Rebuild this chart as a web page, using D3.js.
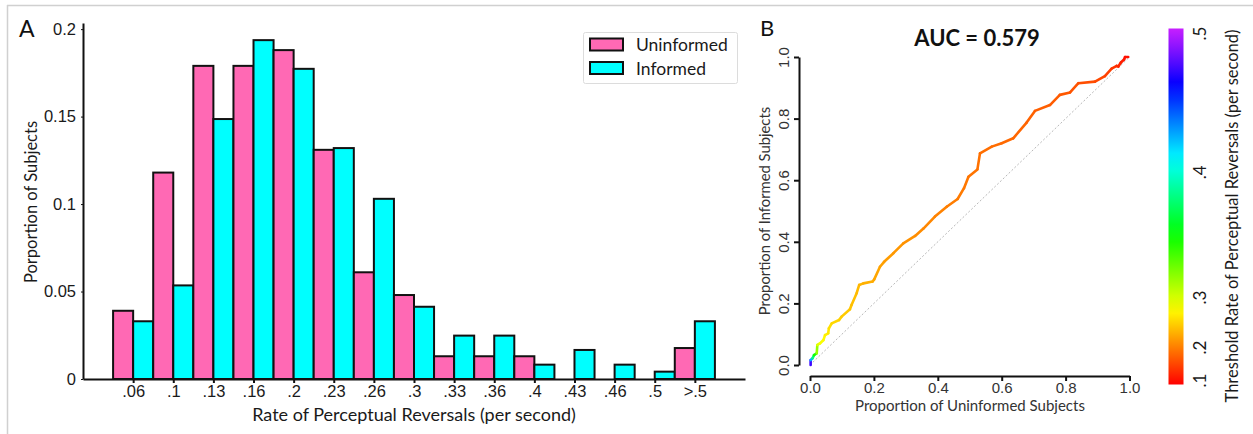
<!DOCTYPE html>
<html><head><meta charset="utf-8">
<script src="https://cdn.jsdelivr.net/npm/d3@7"></script>
<style>
body{margin:0;background:#fff;}
svg{display:block;font-family:Lato, "Open Sans", sans-serif;}
</style></head>
<body>
<svg id="chart" width="1253" height="434"></svg>
<script>
// ---------- Data ----------
const categories = [".06",".1",".13",".16",".2",".23",".26",".3",".33",".36",".4",".43",".46",".5",">.5"];
const uninformed = [0.039,0.118,0.179,0.179,0.188,0.131,0.061,0.048,0.013,0.013,0.013,0,0,0,0.0177];
const informed   = [0.033,0.0535,0.1486,0.1937,0.1773,0.132,0.103,0.0413,0.0248,0.0248,0.0082,0.0166,0.0082,0.0042,0.033];
const yTicksA = [0,0.05,0.1,0.15,0.2];
const seriesNames = ["Uninformed","Informed"];

const rocX = [0.002,0.002,0.008,0.0125,0.021,0.023,0.031,0.042,0.047,0.057,0.059,0.068,0.091,0.099,0.125,0.130,0.146,0.154,0.167,0.196,0.201,0.219,0.232,0.261,0.292,0.329,0.355,0.391,0.428,0.462,0.482,0.496,0.524,0.532,0.569,0.600,0.636,0.678,0.704,0.751,0.782,0.814,0.840,0.892,0.923,0.944,0.960,0.965,0.973,0.983,0.986,0.996];
const rocY = [0,0.016,0.022,0.032,0.038,0.065,0.070,0.081,0.097,0.103,0.119,0.135,0.146,0.157,0.181,0.195,0.233,0.260,0.265,0.271,0.278,0.319,0.335,0.363,0.395,0.419,0.443,0.482,0.514,0.539,0.574,0.611,0.635,0.687,0.709,0.720,0.736,0.787,0.825,0.844,0.877,0.885,0.915,0.920,0.938,0.962,0.971,0.969,0.982,0.992,1.0,1.0];
const rocThreshold = [0.50,0.45,0.40,0.36,0.33,0.30,0.285,0.275,0.27,0.265,0.26,0.255,0.25,0.247,0.243,0.24,0.237,0.234,0.231,0.228,0.225,0.222,0.219,0.216,0.213,0.21,0.207,0.204,0.201,0.198,0.195,0.192,0.19,0.187,0.185,0.183,0.18,0.177,0.174,0.171,0.168,0.165,0.16,0.155,0.15,0.14,0.13,0.125,0.12,0.11,0.105,0.10];
const rocTicks = [0,0.2,0.4,0.6,0.8,1.0];
const cbTicks = [0.1,0.2,0.3,0.4,0.5];
const aucText = "AUC = 0.579";

const svg = d3.select("#chart");
const PINK = "#ff69b4", CYAN = "#00ffff";

// figure border (top and left)
svg.append("line").attr("x1",7).attr("x2",1253).attr("y1",5.5).attr("y2",5.5).attr("stroke","#d0d0d0").attr("stroke-width",1.5);
svg.append("line").attr("x1",7.5).attr("x2",7.5).attr("y1",5).attr("y2",434).attr("stroke","#d0d0d0").attr("stroke-width",1.5);

// ---------- Panel A ----------
const xA = d3.scaleLinear().domain([-1.25, categories.length + 0.25]).range([83, 745]);
const yA = d3.scaleLinear().domain([0, 0.2035]).range([379, 23]);
const bw = xA(0.5) - xA(0);
const gA = svg.append("g");

const bars = [];
categories.forEach((c,i)=>{
  bars.push({i, v: uninformed[i], s:0});
  bars.push({i, v: informed[i], s:1});
});
gA.selectAll("rect.bar").data(bars.filter(d=>d.v>0)).join("rect")
  .attr("class","bar")
  .attr("x", d => d.s===0 ? xA(d.i)-bw : xA(d.i))
  .attr("width", bw)
  .attr("y", d => yA(d.v))
  .attr("height", d => yA(0)-yA(d.v))
  .attr("fill", d => d.s===0 ? PINK : CYAN)
  .attr("stroke","#111").attr("stroke-width",2);

// axes A
const xAxisA = d3.axisBottom(xA).tickValues(d3.range(categories.length)).tickFormat(i=>categories[i]).tickSize(4).tickSizeOuter(0);
const gxA = gA.append("g").attr("transform","translate(0,379)").call(xAxisA);
gxA.select(".domain").attr("stroke","#111").attr("stroke-width",2);
gxA.selectAll(".tick line").attr("stroke","#111").attr("stroke-width",2);
gxA.selectAll(".tick text").attr("font-size",16.5).attr("fill","#1a1a1a").attr("dy",0).attr("y",18);
const yAxisA = d3.axisLeft(yA).tickValues(yTicksA).tickFormat(d3.format("~g")).tickSize(2).tickSizeOuter(0);
const gyA = gA.append("g").attr("transform","translate(83,0)").call(yAxisA);
gyA.select(".domain").attr("stroke","#111").attr("stroke-width",2);
gyA.selectAll(".tick line").attr("stroke","#111");
gyA.selectAll(".tick text").attr("font-size",16.5).attr("fill","#1a1a1a").attr("x",-7);

gA.append("text").attr("x",414).attr("y",421).attr("text-anchor","middle").attr("font-size",18).attr("fill","#1a1a1a")
  .text("Rate of Perceptual Reversals (per second)");
gA.append("text").attr("transform","translate(37,202) rotate(-90)").attr("text-anchor","middle").attr("font-size",16.5).attr("fill","#1a1a1a")
  .text("Porportion of Subjects");
gA.append("text").attr("x",19).attr("y",37).attr("font-size",23).attr("fill","#111").text("A");

// legend
const leg = gA.append("g");
leg.append("rect").attr("x",583.5).attr("y",32.5).attr("width",154).attr("height",51).attr("rx",2)
  .attr("fill","#fff").attr("stroke","#dcdcdc").attr("stroke-width",1);
seriesNames.forEach((n,k)=>{
  leg.append("rect").attr("x",590).attr("y",38.5+k*23.5).attr("width",33).attr("height",12)
    .attr("fill",k===0?PINK:CYAN).attr("stroke","#111").attr("stroke-width",2);
  leg.append("text").attr("x",636).attr("y",51+k*23.5).attr("font-size",17.5).attr("fill","#1a1a1a").text(n);
});

// ---------- Panel B ----------
const xB = d3.scaleLinear().domain([0,1]).range([810,1129.5]);
const yB = d3.scaleLinear().domain([0,1]).range([365,57]);
const gB = svg.append("g");

gB.append("text").attr("x",760).attr("y",36).attr("font-size",22).attr("fill","#111").text("B");
gB.append("text").attr("x",977).attr("y",46).attr("text-anchor","middle").attr("font-size",22).attr("font-weight","bold").attr("fill","#111").text(aucText);

// diagonal
gB.append("line").attr("x1",xB(0)).attr("y1",yB(0)).attr("x2",xB(1)).attr("y2",yB(1))
  .attr("stroke","#b8b8b8").attr("stroke-width",1).attr("stroke-dasharray","2,2");

// color mapping
const cbPos = d3.scaleLinear().domain(cbTicks).range([0.011,0.104,0.244,0.596,0.986]).clamp(true);
const hueOf = t => d3.hsl(t*285, 1, 0.5 + Math.max(0, t-0.85)*0.4).formatHex();
const colOf = thr => hueOf(cbPos(thr));

for (let k=0;k<rocX.length-1;k++){
  gB.append("line")
    .attr("x1",xB(rocX[k])).attr("y1",yB(rocY[k]))
    .attr("x2",xB(rocX[k+1])).attr("y2",yB(rocY[k+1]))
    .attr("stroke", colOf((rocThreshold[k]+rocThreshold[k+1])/2))
    .attr("stroke-width",2.6).attr("stroke-linecap","round");
}

// axes B
const gxB = gB.append("g").attr("transform","translate(0,376)").call(d3.axisBottom(xB).tickValues(rocTicks).tickFormat(d3.format(".1f")).tickSize(5).tickSizeOuter(0));
gxB.select(".domain").attr("stroke","#111").attr("stroke-width",2);
gxB.selectAll(".tick line").attr("stroke","#111").attr("stroke-width",2);
gxB.selectAll(".tick text").attr("font-size",15).attr("fill","#333").attr("dy",0).attr("y",17);
const gyB = gB.append("g").attr("transform","translate(799,0)").call(d3.axisLeft(yB).tickValues(rocTicks).tickFormat(d3.format(".1f")).tickSize(5).tickSizeOuter(0));
gyB.select(".domain").attr("stroke","#111").attr("stroke-width",2);
gyB.selectAll(".tick line").attr("stroke","#111").attr("stroke-width",2);
gyB.selectAll(".tick text").attr("font-size",15).attr("fill","#333")
  .attr("x",null).attr("dy",null).attr("text-anchor","middle").attr("dominant-baseline","central")
  .attr("transform","translate(-16,0) rotate(-90)");

gB.append("text").attr("x",970).attr("y",411).attr("text-anchor","middle").attr("font-size",15).attr("fill","#333")
  .text("Proportion of Uninformed Subjects");
gB.append("text").attr("transform","translate(770,211) rotate(-90)").attr("text-anchor","middle").attr("font-size",14.8).attr("fill","#333")
  .text("Proportion of Informed Subjects");

// colorbar
const cbTop = 28.5, cbBot = 384.5, cbX = 1168.5, cbW = 15;
const defs = svg.append("defs");
const grad = defs.append("linearGradient").attr("id","cbgrad").attr("x1",0).attr("y1",1).attr("x2",0).attr("y2",0);
d3.range(0,1.0001,0.05).forEach(t=>grad.append("stop").attr("offset",t).attr("stop-color",hueOf(t)));
svg.append("rect").attr("x",cbX).attr("y",cbTop).attr("width",cbW).attr("height",cbBot-cbTop).attr("fill","url(#cbgrad)");
const cbY = t => cbBot - t*(cbBot-cbTop);
cbTicks.forEach(v=>{
  svg.append("text").attr("transform",`translate(1199,${cbY(cbPos(v))}) rotate(-90)`)
    .attr("text-anchor","middle").attr("dominant-baseline","central").attr("font-size",17).attr("fill","#1a1a1a")
    .text(d3.format(".1f")(v).replace(/^0/,""));
});
svg.append("text").attr("transform","translate(1232,216) rotate(-90)").attr("text-anchor","middle").attr("dominant-baseline","central")
  .attr("font-size",16.5).attr("fill","#1a1a1a").text("Threshold Rate of Perceptual Reversals (per second)");
</script>
</body></html>
